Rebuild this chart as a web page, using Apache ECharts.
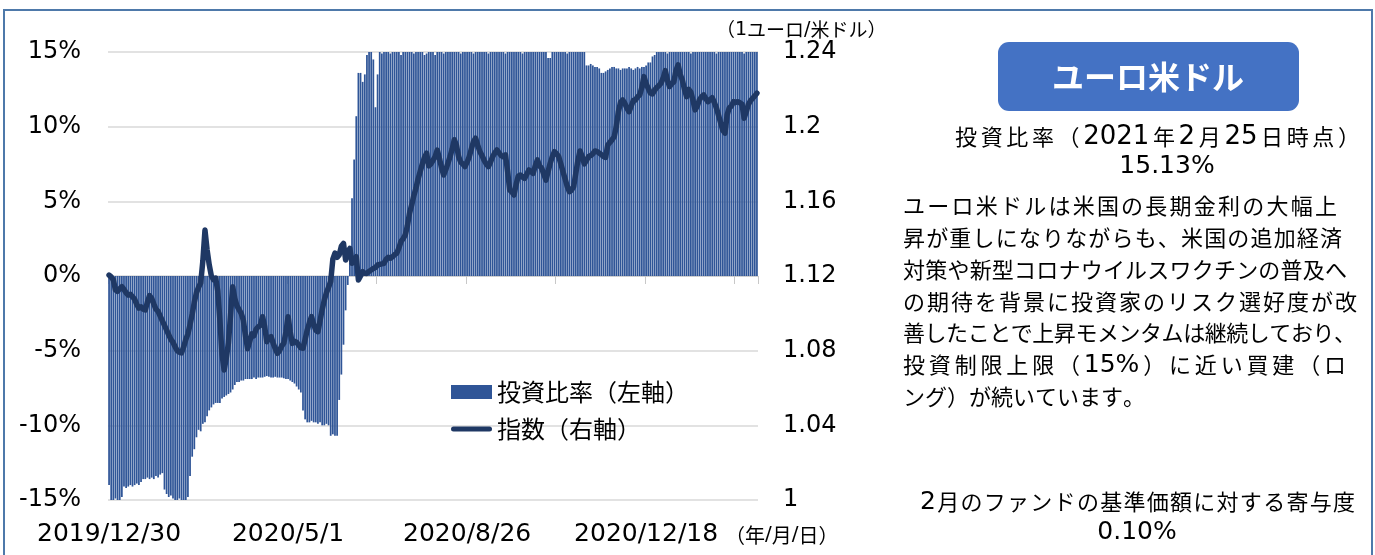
<!DOCTYPE html>
<html><head><meta charset="utf-8">
<script src="https://cdn.jsdelivr.net/npm/echarts@6/dist/echarts.min.js"></script>
<style>html,body{margin:0;padding:0;background:#fff}#c{width:1375px;height:555px}</style>
</head><body><div id="c"></div>
<script>
// ---- data ----
const xTickLabels = ['2019/12/30', '2020/5/1', '2020/8/26', '2020/12/18'];
const labelEvery = 84;
const tickEvery = 42;
const leftTicks = [-15, -10, -5, 0, 5, 10, 15];
const rightTicks = [1, 1.04, 1.08, 1.12, 1.16, 1.2, 1.24];

// 投資比率 (%)
const ratio = [
 -14.0,-15,-15,-14.9,-15,-15,-14.8,-14.1,-14.2,-14.1,
 -14.0,-14.1,-14.0,-13.9,-14.0,-13.8,-13.6,-13.6,-13.5,-13.6,
 -13.5,-13.6,-13.4,-13.5,-13.3,-13.2,-14.3,-14.6,-14.8,-14.7,
 -14.9,-15,-15,-14.9,-15,-15,-15,-14.8,-13.4,-12.1,
 -11.6,-10.8,-10.3,-10.4,-9.9,-9.8,-9.4,-9.0,-8.8,-8.6,
 -8.5,-8.5,-8.5,-8.2,-8.1,-8.0,-7.9,-7.8,-7.6,-7.3,
 -7.1,-7.1,-7.0,-7.0,-6.9,-6.9,-6.9,-6.9,-6.8,-6.9,
 -6.8,-6.8,-6.8,-6.75,-6.7,-6.75,-6.8,-6.8,-6.75,-6.8,
 -6.8,-6.8,-6.85,-6.9,-6.9,-7.0,-7.1,-7.2,-7.4,-7.6,
 -7.8,-9.0,-9.6,-9.8,-9.8,-9.7,-9.8,-9.8,-9.9,-9.8,
 -10.0,-10.0,-9.9,-10.0,-10.7,-10.6,-10.7,-10.7,-8.3,-6.6,
 -4.6,-2.3,-0.6,0.9,5.2,7.8,10.7,13.6,13.6,13.0,
 13.5,14.8,15,15,14.5,11.3,13.5,15,14.9,15,
 15,15,14.9,15,15,15,15,14.8,15,15,
 15,15,15,14.9,15,15,15,15,14.8,14.9,
 15,15,15,14.8,15,15,15,14.9,15,15,
 15,15,15,15,15,14.9,15,15,15,15,
 15,14.9,15,15,15,15,15,15,14.9,15,
 15,15,15,15,15,15,14.9,15,15,15,
 15,15,15,15,14.9,15,15,15,15,15,
 15,15,15,15,15,15,14.6,14.6,15,15,
 15,15,15,15,15,14.9,15,15,15,15,
 15,15,15,15,14.1,14.1,14.2,14.1,14.0,14.0,
 13.9,13.6,13.6,13.7,13.8,13.9,14.0,14.0,13.9,13.9,
 13.8,13.9,13.9,13.9,14.0,13.9,13.8,13.9,14.0,13.9,
 14.0,14.0,14.1,14.3,14.3,14.7,14.8,15,15,15,
 15,15,14.9,15,15,15,15,15,15,15,
 15,15,15,14.9,15,15,15,15,15,15,
 15,15,15,15,15,14.9,15,15,15,15,
 15,15,15,15,15,15,15,15,14.9,15,
 15,15,15,15,15.13
];

// 指数 (1ユーロ/米ドル)
const fx = [
 1.1205,1.1195,1.1179,1.1125,1.1118,1.1132,1.1143,1.1128,1.1110,1.1098,
 1.1102,1.1089,1.1075,1.1048,1.1028,1.1035,1.1022,1.1018,1.1060,1.1095,
 1.1080,1.1050,1.1022,1.1010,1.0985,1.0960,1.0935,1.0910,1.0885,1.0860,
 1.0845,1.0820,1.0800,1.0792,1.0788,1.0820,1.0860,1.0890,1.0940,1.0995,
 1.1060,1.1110,1.1140,1.1162,1.1280,1.1446,1.1340,1.1260,1.1200,1.1180,
 1.1189,1.1120,1.0964,1.0780,1.0696,1.0760,1.0840,1.0990,1.1143,1.1080,
 1.1040,1.1020,1.1000,1.0964,1.0880,1.0810,1.0850,1.0890,1.0880,1.0915,
 1.0928,1.0935,1.0982,1.0930,1.0848,1.0870,1.0875,1.0840,1.0810,1.0786,
 1.0800,1.0825,1.0840,1.0900,1.0982,1.0900,1.0839,1.0850,1.0845,1.0830,
 1.0815,1.0813,1.0860,1.0911,1.0950,1.0982,1.0940,1.0910,1.0902,1.0960,
 1.1020,1.1071,1.1110,1.1140,1.1170,1.1290,1.1323,1.1300,1.1313,1.1360,
 1.1375,1.1286,1.1330,1.1348,1.1268,1.1290,1.1303,1.1179,1.1200,1.1223,
 1.1215,1.1214,1.1225,1.1232,1.1240,1.1245,1.1259,1.1262,1.1265,1.1268,
 1.1290,1.1300,1.1295,1.1303,1.1315,1.1322,1.1350,1.1385,1.1400,1.1420,
 1.1470,1.1537,1.1580,1.1630,1.1670,1.1720,1.1760,1.1800,1.1835,1.1858,
 1.1790,1.1800,1.1820,1.1840,1.1875,1.1830,1.1780,1.1741,1.1770,1.1804,
 1.1839,1.1880,1.1930,1.1900,1.1840,1.1810,1.1800,1.1786,1.1810,1.1839,
 1.1880,1.1920,1.1938,1.1900,1.1866,1.1845,1.1820,1.1800,1.1786,1.1810,
 1.1840,1.1860,1.1875,1.1860,1.1845,1.1839,1.1849,1.1760,1.1661,1.1650,
 1.1634,1.1690,1.1735,1.1741,1.1730,1.1723,1.1745,1.1768,1.1760,1.1750,
 1.1790,1.1822,1.1790,1.1777,1.1745,1.1714,1.1760,1.1804,1.1840,1.1866,
 1.1855,1.1839,1.1800,1.1759,1.1720,1.1680,1.1652,1.1660,1.1679,1.1750,
 1.1820,1.1870,1.1840,1.1800,1.1820,1.1840,1.1845,1.1855,1.1870,1.1866,
 1.1859,1.1850,1.1840,1.1835,1.1902,1.1915,1.1930,1.1945,1.2000,1.2080,
 1.2130,1.2143,1.2125,1.2099,1.2080,1.2110,1.2140,1.2143,1.2160,1.2170,
 1.2210,1.2268,1.2230,1.2205,1.2180,1.2175,1.2195,1.2210,1.2220,1.2233,
 1.2260,1.2300,1.2250,1.2215,1.2230,1.2240,1.2300,1.2331,1.2280,1.2250,
 1.2200,1.2161,1.2200,1.2185,1.2140,1.2090,1.2110,1.2143,1.2160,1.2170,
 1.2150,1.2134,1.2145,1.2155,1.2130,1.2100,1.2060,1.2020,1.1980,1.1965,
 1.2063,1.2100,1.2110,1.2134,1.2130,1.2134,1.2128,1.2120,1.2045,1.2080,
 1.2120,1.2140,1.2152,1.2165,1.2179
];

const categories = ratio.map((_, i) => String(i));

const panelTitle = 'ユーロ米ドル';
const headLine = '投資比率（2021年2月25日時点）';
const headValue = '15.13%';
const bodyLines = [
 'ユーロ米ドルは米国の長期金利の大幅上',
 '昇が重しになりながらも、米国の追加経済',
 '対策や新型コロナウイルスワクチンの普及へ',
 'の期待を背景に投資家のリスク選好度が改',
 '善したことで上昇モメンタムは継続しており、',
 '投資制限上限（15%）に近い買建（ロ',
 'ング）が続いています。'
];
const footLine = '2月のファンドの基準価額に対する寄与度';
const footValue = '0.10%';
const rightUnit = '（1ユーロ/米ドル）';
const dateUnit = '（年/月/日）';

// ---- text layout helpers ----
const LAT = "'DejaVu Sans'", CJK = "'Noto Sans CJK JP'";
const mctx = document.createElement('canvas').getContext('2d');
function isLatin(c) { return c.charCodeAt(0) < 0x2000; }
function fontFor(c, cs, ls, w) { return isLatin(c) ? `${w || 'normal'} ${ls}px ${LAT}` : `${w || 'normal'} ${cs}px ${CJK}`; }
function placeLine(text, y, x0, x1, cs, ls, fill, w) {
  const chars = Array.from(text);
  const ws = chars.map(c => { mctx.font = fontFor(c, cs, ls, w); return mctx.measureText(c).width; });
  const nat = ws.reduce((a, b) => a + b, 0);
  // gaps only between chars that are not both Latin
  let nGaps = 0;
  for (let k = 1; k < chars.length; k++) if (!(isLatin(chars[k]) && isLatin(chars[k - 1]))) nGaps++;
  const gap = (x1 != null && nGaps > 0) ? (x1 - x0 - nat) / nGaps : 0;
  let x = x0; const out = [];
  chars.forEach((c, k) => {
    if (k > 0 && !(isLatin(c) && isLatin(chars[k - 1]))) x += gap;
    out.push({ type: 'text', silent: true, x: x, y: y, z: 10,
      style: { text: c, font: fontFor(c, cs, ls, w), fill: fill || '#000',
        align: 'left', verticalAlign: 'middle', textAlign: 'left', textVerticalAlign: 'middle' } });
    x += ws[k];
  });
  return out;
}
function centerText(text, x, y, size, fam, fill, weight) {
  return { type: 'text', silent: true, x: x, y: y, z: 10,
    style: { text: text, font: `${weight || 'normal'} ${size}px ${fam}`, fill: fill || '#000',
      align: 'center', verticalAlign: 'middle', textAlign: 'center', textVerticalAlign: 'middle' } };
}

const graphics = [];
graphics.push({ type: 'rect', silent: true, z: 0, shape: { x: 4, y: 10, width: 1368, height: 600 },
  style: { fill: 'none', stroke: '#4e79aa', lineWidth: 2 } });
graphics.push({ type: 'rect', silent: true, z: 5, shape: { x: 998, y: 42, width: 301, height: 69, r: 11 },
  style: { fill: '#4472c4' } });
graphics.push(centerText(panelTitle, 1148, 77, 32, CJK, '#fff', 'bold'));
graphics.push(...placeLine(headLine, 137, 955, 1360, 22, 26, '#000'));
graphics.push(centerText(headValue, 1167, 166, 25, LAT, '#000'));
const bodyY = [206, 238, 270, 302, 333, 365, 397];
const bodyEnd = [1337, 1342, 1347, 1357, 1356, 1346, null];
bodyLines.forEach((t, k) => graphics.push(...placeLine(t, bodyY[k], 903, bodyEnd[k], 22, 25, '#000')));
graphics.push(...placeLine(footLine, 502, 920, 1355, 22, 25, '#000'));
graphics.push(centerText(footValue, 1137, 532, 25, LAT, '#000'));
graphics.push(...placeLine(rightUnit, 30, 716, null, 19, 19, '#000'));
graphics.push(...placeLine(dateUnit, 535, 725, null, 20, 20, '#000'));

const chart = echarts.init(document.getElementById('c'), null, { renderer: 'canvas' });
chart.setOption({
  animation: false,
  backgroundColor: '#fff',
  grid: { left: 108, top: 52, width: 650, height: 448, containLabel: false },
  legend: {
    orient: 'vertical', left: 446, top: 375, itemWidth: 41, itemHeight: 14, itemGap: 13,
    textStyle: { fontSize: 24, fontFamily: CJK, color: '#000' },
    data: [
      { name: '投資比率（左軸）', icon: 'rect' },
      { name: '指数（右軸）', icon: 'path://M2.5,0 L38.5,0 A2.5,2.5 0 0 1 38.5,5 L2.5,5 A2.5,2.5 0 0 1 2.5,0 Z' }
    ]
  },
  xAxis: [
    { type: 'category', data: categories, position: 'top', boundaryGap: true,
      axisLine: { show: true, onZero: true, onZeroAxisIndex: 0, lineStyle: { color: '#d0d0d0', width: 1 } },
      axisTick: { show: true, inside: true, length: 8, interval: tickEvery - 1, lineStyle: { color: '#c8c8c8' } },
      axisLabel: { show: false }, splitLine: { show: false } },
    { type: 'category', data: categories, position: 'bottom', boundaryGap: true,
      axisLine: { show: false, onZero: false }, axisTick: { show: false },
      axisLabel: { show: true, interval: labelEvery - 1, margin: 22, fontSize: 25, fontFamily: LAT, color: '#000',
        formatter: (v, i) => { const k = i / labelEvery; return Number.isInteger(k) && xTickLabels[k] ? xTickLabels[k] : ''; } },
      splitLine: { show: false } }
  ],
  yAxis: [
    { type: 'value', min: leftTicks[0], max: leftTicks[leftTicks.length - 1], interval: 5, position: 'left',
      axisLine: { show: false }, axisTick: { show: false },
      axisLabel: { margin: 27, fontSize: 24, fontFamily: LAT, color: '#000', formatter: v => v + '%' },
      splitLine: { show: true, lineStyle: { color: '#d9d9d9', width: 1.5 } } },
    { type: 'value', min: rightTicks[0], max: rightTicks[rightTicks.length - 1], interval: 0.04, position: 'right',
      axisLine: { show: false }, axisTick: { show: false },
      axisLabel: { margin: 25, fontSize: 24, fontFamily: LAT, color: '#000' },
      splitLine: { show: false } }
  ],
  series: [
    { name: '投資比率（左軸）', type: 'bar', data: ratio, xAxisIndex: 0, yAxisIndex: 0,
      barCategoryGap: '18%', clip: true, itemStyle: { color: '#2f5597' } },
    { name: '指数（右軸）', type: 'line', data: fx, xAxisIndex: 0, yAxisIndex: 1,
      symbol: 'none', showSymbol: false, smooth: false, lineStyle: { color: '#1f3864', width: 5.5, cap: 'round', join: 'round' },
      itemStyle: { color: '#1f3864' } }
  ],
  graphic: graphics
});
</script>
</body></html>
